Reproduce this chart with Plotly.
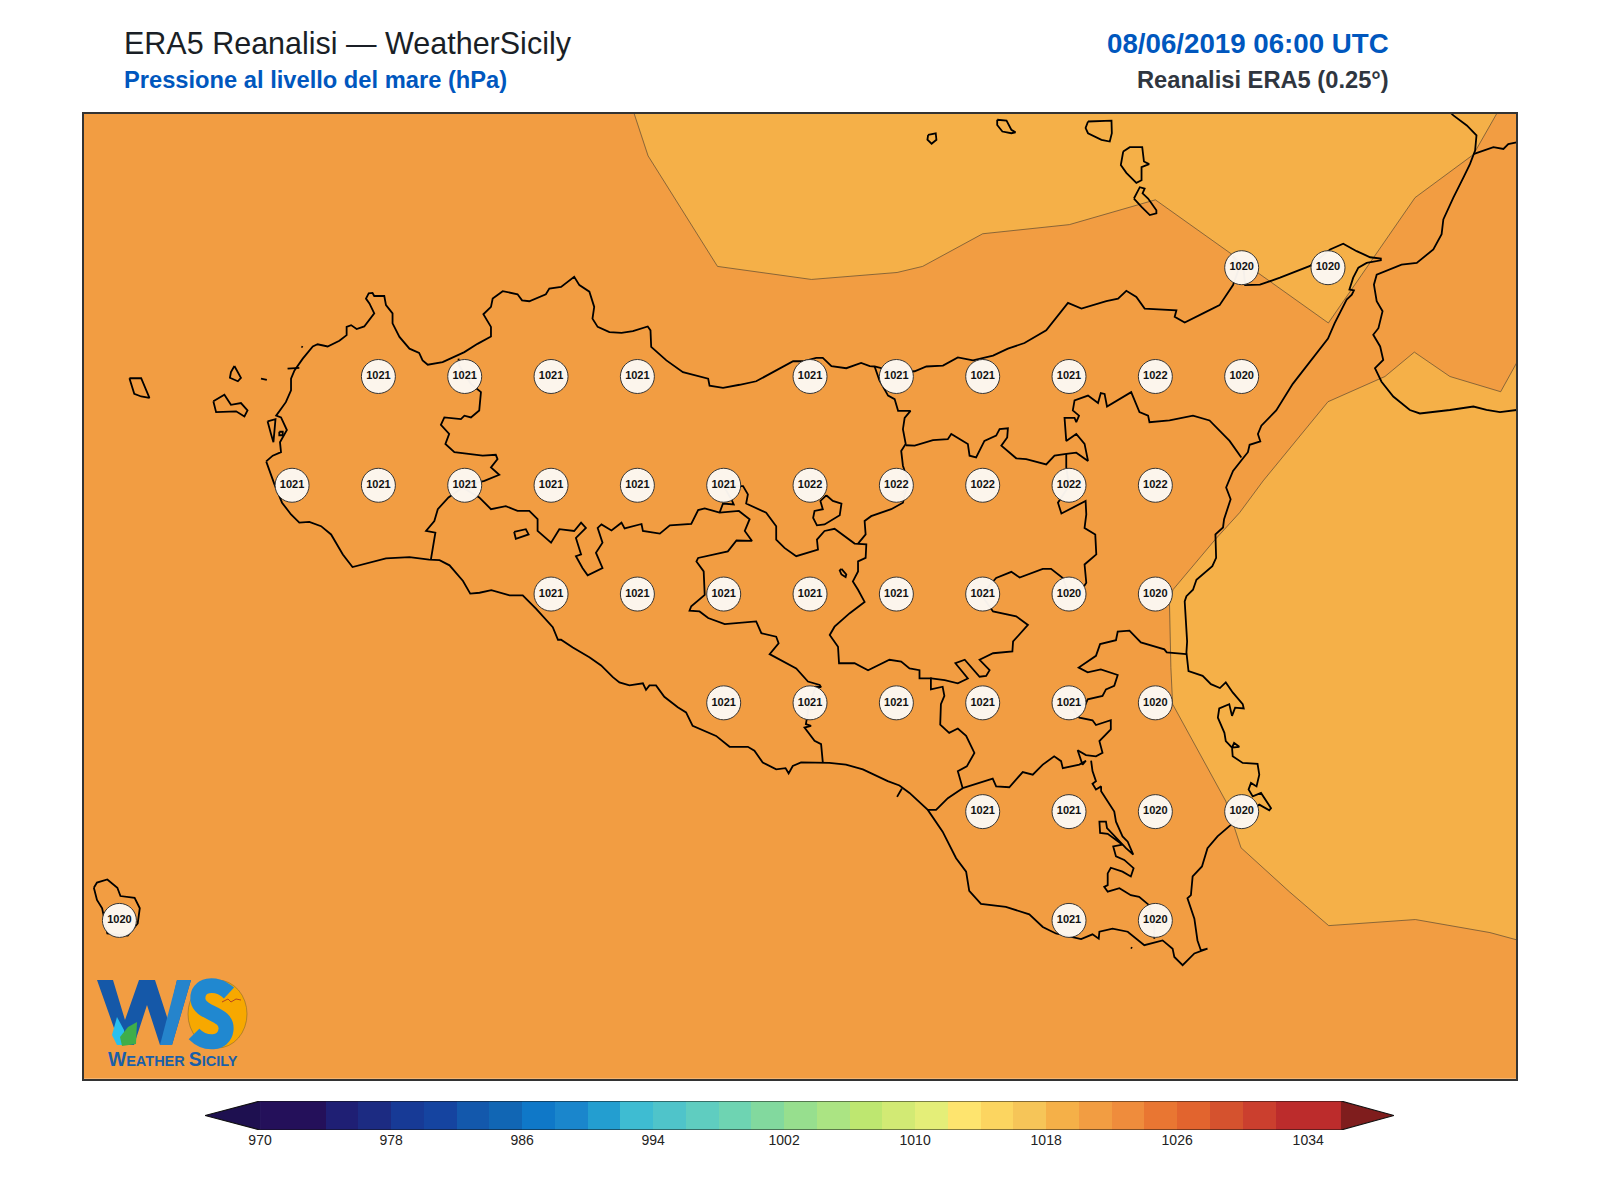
import plotly.graph_objects as go

# ---------- colour bands of the scale (hPa) ----------
LEVELS = list(range(970, 1036, 2))
BAND_COLORS = ["#24105A", "#24105A", "#1F1F74", "#1C2B82", "#173A96", "#1544A0", "#1358AC", "#1166B4",
               "#0F78C8", "#1A86CC", "#239ED0", "#3EBCD2", "#4FC4CA", "#5FCDC0", "#6ED4B2", "#82D99E",
               "#97DF8E", "#ABE483", "#BEE770", "#D2EA74", "#E4EE78", "#FEE46E", "#FCD560", "#F6C558",
               "#F5B048", "#F29D42", "#EF8C3C", "#E97632", "#E2642E", "#D5522E", "#CB3F2E", "#BC2C2C",
               "#BC2C2C"]
UNDER_COLOR = "#1E1050"
OVER_COLOR = "#7F1D1D"
CBAR_TICKS = [970, 978, 986, 994, 1002, 1010, 1018, 1026, 1034]

# ---------- grid labels ----------
GRID_LON = [15.25, 15.5,
            12.75, 13.0, 13.25, 13.5, 14.0, 14.25, 14.5, 14.75, 15.0, 15.25,
            12.5, 12.75, 13.0, 13.25, 13.5, 13.75, 14.0, 14.25, 14.5, 14.75, 15.0,
            13.25, 13.5, 13.75, 14.0, 14.25, 14.5, 14.75, 15.0,
            13.75, 14.0, 14.25, 14.5, 14.75, 15.0,
            14.5, 14.75, 15.0, 15.25,
            12.0, 14.75, 15.0]
GRID_LAT = [38.25] * 2 + [38.0] * 10 + [37.75] * 11 + [37.5] * 8 + [37.25] * 6 + [37.0] * 4 + [36.75] * 3
GRID_HPA = [1020, 1020,
            1021, 1021, 1021, 1021, 1021, 1021, 1021, 1021, 1022, 1020,
            1021, 1021, 1021, 1021, 1021, 1021, 1022, 1022, 1022, 1022, 1022,
            1021, 1021, 1021, 1021, 1021, 1021, 1020, 1020,
            1021, 1021, 1021, 1021, 1021, 1020,
            1021, 1021, 1020, 1020,
            1020, 1021, 1020]

# ---------- pressure band outlines (lon, lat) ----------
BAND_BASE = [(11.7, 36.2), (16.2, 36.2), (16.2, 38.8), (11.7, 38.8), (11.7, 36.2)]
BAND_NORTH = [(13.484, 38.62), (13.531, 38.507), (13.732, 38.253), (14.004, 38.223), (14.252, 38.239),
              (14.326, 38.253), (14.5, 38.328), (14.751, 38.349), (15.0, 38.406), (15.501, 38.123),
              (15.752, 38.411), (15.921, 38.510), (16.0, 38.62)]
BAND_EAST = [(16.06, 38.051), (16.046, 38.031), (16.0, 37.965), (15.853, 38.0), (15.75, 38.056), (15.665, 38.0),
             (15.5, 37.942), (15.312, 37.760), (15.244, 37.687), (15.174, 37.626), (15.051, 37.510),
             (15.041, 37.476), (15.043, 37.391), (15.045, 37.331), (15.05, 37.247), (15.204, 37.024),
             (15.248, 36.917), (15.388, 36.816), (15.502, 36.738), (15.753, 36.752), (15.969, 36.722),
             (16.048, 36.705), (16.06, 36.70)]

# ---------- coast of Sicily (lon, lat) ----------
COAST_SICILY = [
    (12.425, 37.805), (12.444, 37.818), (12.468, 37.826), (12.465, 37.849), (12.485, 37.877), (12.468, 37.906),
    (12.454, 37.910), (12.482, 37.941), (12.497, 37.968), (12.497, 37.995), (12.507, 38.014), (12.531, 38.041),
    (12.560, 38.069), (12.574, 38.074), (12.603, 38.069), (12.637, 38.082), (12.658, 38.095), (12.658, 38.114),
    (12.671, 38.118), (12.687, 38.109), (12.709, 38.115), (12.729, 38.137), (12.738, 38.145), (12.724, 38.168),
    (12.714, 38.179), (12.722, 38.191), (12.733, 38.192), (12.738, 38.185), (12.767, 38.185), (12.772, 38.164),
    (12.791, 38.145), (12.791, 38.122), (12.811, 38.091), (12.840, 38.064), (12.868, 38.054), (12.878, 38.037),
    (12.893, 38.027), (12.936, 38.033), (12.999, 38.056), (13.037, 38.075), (13.076, 38.092), (13.076, 38.114),
    (13.054, 38.143), (13.076, 38.160), (13.081, 38.179), (13.110, 38.196), (13.153, 38.189), (13.166, 38.175),
    (13.187, 38.173), (13.235, 38.189), (13.245, 38.202), (13.279, 38.206), (13.317, 38.229), (13.332, 38.210),
    (13.361, 38.195), (13.375, 38.160), (13.370, 38.133), (13.385, 38.114), (13.419, 38.102), (13.454, 38.100),
    (13.487, 38.104), (13.530, 38.115), (13.538, 38.106), (13.540, 38.068), (13.584, 38.037), (13.632, 38.010),
    (13.705, 37.995), (13.709, 37.979), (13.748, 37.974), (13.796, 37.981), (13.844, 37.989), (13.902, 38.014),
    (13.951, 38.035), (13.980, 38.035), (14.018, 38.043), (14.037, 38.043), (14.062, 38.024), (14.105, 38.019),
    (14.148, 38.031), (14.173, 38.024), (14.187, 38.023), (14.250, 38.010), (14.303, 38.012), (14.337, 38.023),
    (14.385, 38.025), (14.428, 38.044), (14.472, 38.037), (14.530, 38.048), (14.573, 38.064), (14.621, 38.077),
    (14.684, 38.106), (14.747, 38.169), (14.786, 38.156), (14.858, 38.173), (14.892, 38.179), (14.916, 38.197),
    (14.945, 38.183), (14.969, 38.156), (15.061, 38.152), (15.056, 38.137), (15.085, 38.124), (15.138, 38.145),
    (15.186, 38.164), (15.225, 38.210), (15.243, 38.250), (15.224, 38.277), (15.255, 38.250), (15.260, 38.210),
    (15.303, 38.211), (15.361, 38.227), (15.448, 38.254), (15.506, 38.292), (15.544, 38.305), (15.583, 38.288),
    (15.622, 38.274), (15.653, 38.271), (15.653, 38.267), (15.612, 38.261), (15.588, 38.250), (15.573, 38.227),
    (15.562, 38.200), (15.575, 38.198), (15.569, 38.188), (15.554, 38.177), (15.519, 38.122), (15.500, 38.087),
    (15.485, 38.072), (15.442, 38.029), (15.398, 37.983), (15.350, 37.922), (15.307, 37.887), (15.297, 37.868),
    (15.304, 37.851), (15.273, 37.843), (15.268, 37.826), (15.254, 37.812), (15.225, 37.783), (15.205, 37.745),
    (15.218, 37.718), (15.199, 37.672), (15.196, 37.653), (15.174, 37.637), (15.176, 37.583), (15.165, 37.564),
    (15.119, 37.533), (15.109, 37.510), (15.090, 37.495), (15.085, 37.483), (15.090, 37.429), (15.092, 37.391),
    (15.090, 37.366), (15.096, 37.323), (15.137, 37.312), (15.161, 37.293), (15.187, 37.284), (15.204, 37.297),
    (15.224, 37.274), (15.253, 37.247), (15.256, 37.237), (15.231, 37.239), (15.222, 37.220), (15.214, 37.247),
    (15.185, 37.237), (15.181, 37.216), (15.200, 37.181), (15.204, 37.162), (15.222, 37.147), (15.228, 37.158),
    (15.243, 37.149), (15.222, 37.147), (15.224, 37.127), (15.253, 37.112), (15.296, 37.110), (15.301, 37.085),
    (15.293, 37.058), (15.277, 37.066), (15.270, 37.051), (15.282, 37.035), (15.306, 37.043), (15.335, 37.008),
    (15.330, 37.003), (15.301, 37.016), (15.253, 36.993), (15.209, 36.962), (15.180, 36.943), (15.151, 36.916),
    (15.135, 36.874), (15.108, 36.851), (15.103, 36.808), (15.093, 36.801), (15.113, 36.754), (15.122, 36.704),
    (15.132, 36.681), (15.151, 36.685), (15.132, 36.679), (15.113, 36.674), (15.079, 36.647), (15.055, 36.666),
    (15.050, 36.685), (15.021, 36.704), (14.968, 36.693), (14.920, 36.724), (14.876, 36.731), (14.838, 36.724),
    (14.836, 36.708), (14.818, 36.718), (14.785, 36.707), (14.712, 36.720), (14.674, 36.735), (14.635, 36.764),
    (14.567, 36.781), (14.495, 36.788), (14.461, 36.818), (14.452, 36.862), (14.423, 36.893), (14.384, 36.954),
    (14.341, 37.004), (14.288, 37.043), (14.259, 37.060), (14.225, 37.070), (14.153, 37.097), (14.104, 37.108),
    (14.056, 37.112), (13.974, 37.113), (13.950, 37.105), (13.938, 37.088), (13.929, 37.100), (13.902, 37.097),
    (13.863, 37.113), (13.839, 37.140), (13.820, 37.149), (13.767, 37.149), (13.728, 37.174), (13.660, 37.197),
    (13.641, 37.228), (13.617, 37.240), (13.578, 37.264), (13.554, 37.290), (13.535, 37.290), (13.525, 37.280),
    (13.516, 37.295), (13.477, 37.290), (13.448, 37.297), (13.429, 37.309), (13.395, 37.336), (13.361, 37.355),
    (13.313, 37.377), (13.279, 37.395), (13.270, 37.395), (13.255, 37.424), (13.207, 37.466), (13.168, 37.497),
    (13.130, 37.497), (13.077, 37.509), (13.043, 37.503), (13.016, 37.501), (12.995, 37.530), (12.956, 37.566),
    (12.927, 37.578), (12.897, 37.579), (12.840, 37.585), (12.772, 37.582), (12.675, 37.562), (12.647, 37.591),
    (12.613, 37.637), (12.584, 37.656), (12.550, 37.666), (12.521, 37.664), (12.497, 37.683), (12.471, 37.710),
    (12.449, 37.752), (12.425, 37.805)]

COAST_CALABRIA = [
    (15.85, 38.61), (15.863, 38.600), (15.902, 38.577), (15.930, 38.554), (15.926, 38.519), (15.911, 38.488),
    (15.892, 38.457), (15.863, 38.411), (15.834, 38.361), (15.829, 38.327), (15.805, 38.292), (15.757, 38.261),
    (15.713, 38.257), (15.641, 38.234), (15.633, 38.211), (15.641, 38.173), (15.658, 38.150), (15.646, 38.111),
    (15.631, 38.096), (15.651, 38.069), (15.660, 38.038), (15.636, 38.019), (15.655, 37.988), (15.689, 37.954),
    (15.737, 37.923), (15.766, 37.915), (15.853, 37.923), (15.921, 37.931), (15.959, 37.923), (15.998, 37.918),
    (16.046, 37.923), (16.06, 37.923)]
BORDER_CALABRIA = [(15.921, 38.511), (15.950, 38.519), (15.979, 38.527), (16.008, 38.523), (16.022, 38.534),
                   (16.046, 38.538), (16.06, 38.54)]

# ---------- islands and small features (lon, lat) ----------
ISLANDS = [
    [(12.029, 37.996), (12.063, 37.996), (12.087, 37.951), (12.063, 37.954), (12.043, 37.960), (12.029, 37.996)],
    [(12.333, 38.024), (12.352, 37.997), (12.343, 37.989), (12.320, 37.997), (12.323, 38.010), (12.333, 38.024)],
    [(12.272, 37.943), (12.304, 37.958), (12.323, 37.935), (12.352, 37.939), (12.371, 37.922), (12.362, 37.908),
     (12.338, 37.920), (12.299, 37.918), (12.280, 37.918), (12.272, 37.943)],
    [(12.410, 37.995), (12.427, 37.992)],
    [(12.527, 38.069), (12.531, 38.067)],
    [(12.429, 37.897), (12.452, 37.902), (12.449, 37.875), (12.446, 37.849), (12.439, 37.868), (12.429, 37.897)],
    [(12.463, 37.873), (12.473, 37.873), (12.473, 37.865), (12.463, 37.865), (12.463, 37.873)],
    [(12.487, 38.018), (12.521, 38.020)],
    [(14.342, 38.555), (14.364, 38.559), (14.366, 38.544), (14.352, 38.535), (14.340, 38.544), (14.342, 38.555)],
    [(14.542, 38.590), (14.569, 38.588), (14.583, 38.567), (14.595, 38.561), (14.583, 38.559), (14.557, 38.563),
     (14.542, 38.578), (14.542, 38.590)],
    [(14.805, 38.586), (14.873, 38.588), (14.874, 38.559), (14.868, 38.540), (14.844, 38.544), (14.805, 38.559),
     (14.798, 38.571), (14.805, 38.586)],
    [(14.907, 38.517), (14.926, 38.527), (14.962, 38.527), (14.967, 38.494), (14.982, 38.488), (14.960, 38.481),
     (14.960, 38.451), (14.945, 38.445), (14.916, 38.468), (14.900, 38.486), (14.907, 38.517)],
    [(14.938, 38.409), (14.950, 38.425), (14.955, 38.435), (14.969, 38.432), (14.963, 38.421), (14.979, 38.409),
     (15.003, 38.382), (15.003, 38.375), (14.984, 38.371), (14.960, 38.390), (14.938, 38.409)],
    [(11.926, 36.825), (11.935, 36.837), (11.965, 36.844), (11.994, 36.825), (12.003, 36.806), (12.044, 36.802),
     (12.059, 36.778), (12.053, 36.743), (12.024, 36.715), (11.965, 36.72), (11.95, 36.778), (11.935, 36.797),
     (11.926, 36.825)],
    [(14.266, 37.053), (14.252, 37.034)],
    [(14.929, 36.688), (14.933, 36.686)],
]

# ---------- province borders (lon, lat) ----------
BORDERS = [
    [(12.982, 38.041), (12.984, 38.025), (13.018, 37.983), (13.047, 37.964), (13.042, 37.922), (13.018, 37.906),
     (12.999, 37.910), (12.989, 37.902), (12.941, 37.906), (12.931, 37.889), (12.955, 37.868), (12.944, 37.845),
     (12.970, 37.826), (13.052, 37.818), (13.090, 37.820), (13.095, 37.810), (13.076, 37.791), (13.100, 37.774),
     (13.057, 37.760), (13.018, 37.752), (12.994, 37.745), (12.953, 37.722), (12.922, 37.695), (12.912, 37.668),
     (12.888, 37.645), (12.915, 37.641), (12.902, 37.579)],
    [(12.994, 37.745), (13.042, 37.722), (13.076, 37.695), (13.119, 37.702), (13.153, 37.691), (13.187, 37.691),
     (13.211, 37.672), (13.211, 37.645), (13.250, 37.618), (13.274, 37.649), (13.317, 37.645), (13.337, 37.664),
     (13.351, 37.652), (13.322, 37.629), (13.337, 37.591), (13.322, 37.587), (13.341, 37.560), (13.356, 37.543),
     (13.399, 37.560), (13.380, 37.595), (13.399, 37.618), (13.385, 37.652), (13.396, 37.660), (13.425, 37.646),
     (13.454, 37.664), (13.463, 37.651), (13.512, 37.661), (13.516, 37.645), (13.565, 37.639), (13.594, 37.658),
     (13.656, 37.661), (13.676, 37.693), (13.695, 37.697), (13.738, 37.687), (13.794, 37.691), (13.825, 37.672),
     (13.811, 37.645), (13.832, 37.622), (13.787, 37.623), (13.762, 37.598), (13.676, 37.583), (13.671, 37.575),
     (13.692, 37.552), (13.695, 37.498), (13.656, 37.472), (13.651, 37.462), (13.680, 37.460), (13.705, 37.445),
     (13.753, 37.431), (13.844, 37.437), (13.859, 37.410), (13.902, 37.402), (13.909, 37.387), (13.883, 37.362),
     (13.960, 37.329), (13.994, 37.299), (14.028, 37.291), (14.032, 37.286), (14.017, 37.287), (13.998, 37.247),
     (13.988, 37.201), (14.003, 37.197), (13.984, 37.193), (14.013, 37.163), (14.032, 37.155), (14.037, 37.113)],
    [(13.738, 37.687), (13.748, 37.708), (13.779, 37.706), (13.772, 37.718), (13.750, 37.748), (13.806, 37.748),
     (13.820, 37.729), (13.815, 37.708), (13.873, 37.687), (13.902, 37.656), (13.902, 37.625), (13.926, 37.606),
     (13.960, 37.587), (14.023, 37.602), (14.020, 37.625), (14.042, 37.645), (14.071, 37.650), (14.105, 37.629),
     (14.129, 37.616), (14.163, 37.614), (14.161, 37.583), (14.139, 37.575), (14.139, 37.552), (14.124, 37.529),
     (14.139, 37.510), (14.158, 37.482), (14.115, 37.456), (14.071, 37.425), (14.057, 37.406), (14.081, 37.379),
     (14.084, 37.341), (14.129, 37.341), (14.168, 37.325), (14.230, 37.349), (14.264, 37.345), (14.288, 37.329),
     (14.317, 37.325), (14.317, 37.306), (14.351, 37.306), (14.390, 37.302), (14.428, 37.295), (14.457, 37.306),
     (14.421, 37.341), (14.448, 37.349), (14.491, 37.310), (14.510, 37.312), (14.520, 37.325), (14.491, 37.349),
     (14.530, 37.364), (14.586, 37.368), (14.588, 37.391), (14.631, 37.429), (14.597, 37.449), (14.530, 37.460),
     (14.496, 37.498), (14.539, 37.537), (14.583, 37.551), (14.607, 37.538), (14.674, 37.558), (14.698, 37.558),
     (14.732, 37.537), (14.750, 37.499), (14.790, 37.514), (14.800, 37.526), (14.795, 37.568), (14.829, 37.591),
     (14.826, 37.637), (14.795, 37.652), (14.800, 37.683), (14.798, 37.714), (14.752, 37.695), (14.728, 37.685),
     (14.718, 37.710), (14.750, 37.749), (14.742, 37.791), (14.742, 37.822)],
    [(14.187, 38.023), (14.201, 37.991), (14.226, 37.956), (14.245, 37.948), (14.255, 37.921), (14.291, 37.921),
     (14.274, 37.905), (14.269, 37.879), (14.277, 37.845), (14.264, 37.829), (14.269, 37.795), (14.284, 37.760),
     (14.269, 37.710), (14.235, 37.695), (14.177, 37.679), (14.158, 37.668), (14.161, 37.637), (14.139, 37.616)],
    [(14.277, 37.842), (14.303, 37.841), (14.356, 37.854), (14.399, 37.856), (14.409, 37.868), (14.457, 37.845),
     (14.462, 37.818), (14.481, 37.814), (14.505, 37.852), (14.539, 37.864), (14.549, 37.879), (14.573, 37.881),
     (14.571, 37.860), (14.554, 37.841), (14.597, 37.812), (14.626, 37.810), (14.684, 37.798), (14.708, 37.818),
     (14.742, 37.822), (14.771, 37.825), (14.805, 37.806), (14.795, 37.845), (14.771, 37.868), (14.742, 37.852),
     (14.737, 37.905), (14.766, 37.905), (14.771, 37.895), (14.779, 37.910), (14.761, 37.922), (14.766, 37.945),
     (14.805, 37.956), (14.834, 37.939), (14.842, 37.962), (14.853, 37.960), (14.860, 37.931), (14.897, 37.949),
     (14.930, 37.964), (14.954, 37.918), (14.979, 37.910), (14.983, 37.895), (15.041, 37.899), (15.109, 37.910),
     (15.157, 37.899), (15.215, 37.852), (15.249, 37.814)],
    [(14.749, 37.250), (14.798, 37.247), (14.804, 37.258), (14.847, 37.266), (14.857, 37.281),
     (14.881, 37.289), (14.891, 37.314), (14.842, 37.327), (14.804, 37.320), (14.778, 37.331), (14.828, 37.358),
     (14.840, 37.385), (14.886, 37.394), (14.891, 37.414), (14.925, 37.416), (14.958, 37.389), (15.026, 37.373),
     (15.033, 37.366), (15.090, 37.362)],
    [(14.749, 37.250), (14.780, 37.216), (14.818, 37.210), (14.828, 37.199), (14.871, 37.210), (14.871, 37.189),
     (14.838, 37.162), (14.847, 37.135), (14.828, 37.127), (14.799, 37.130), (14.775, 37.141), (14.789, 37.108),
     (14.799, 37.117), (14.780, 37.108), (14.732, 37.100), (14.727, 37.116), (14.707, 37.127), (14.674, 37.108),
     (14.645, 37.085), (14.616, 37.091), (14.577, 37.056), (14.539, 37.058), (14.529, 37.076), (14.442, 37.054),
     (14.428, 37.093), (14.454, 37.104), (14.476, 37.135), (14.452, 37.174), (14.428, 37.191), (14.403, 37.181),
     (14.377, 37.200), (14.379, 37.247), (14.389, 37.266), (14.384, 37.287), (14.350, 37.281), (14.350, 37.308)],
    [(14.442, 37.054), (14.399, 37.031), (14.365, 37.004), (14.341, 37.004)],
    [(14.814, 37.117), (14.818, 37.093), (14.828, 37.070), (14.818, 37.064), (14.828, 37.051), (14.843, 37.058),
     (14.843, 37.047), (14.881, 37.000), (14.886, 36.977), (14.905, 36.943), (14.920, 36.931), (14.936, 36.901),
     (14.915, 36.916), (14.881, 36.943), (14.860, 36.962), (14.857, 36.977), (14.838, 36.977), (14.840, 36.951),
     (14.862, 36.949), (14.905, 36.924), (14.878, 36.920), (14.886, 36.897), (14.910, 36.889), (14.937, 36.870),
     (14.929, 36.851), (14.905, 36.862), (14.871, 36.871), (14.862, 36.858), (14.862, 36.831), (14.852, 36.827),
     (14.862, 36.816), (14.896, 36.824), (14.929, 36.808), (14.953, 36.804), (14.982, 36.785), (14.997, 36.747),
     (14.997, 36.708)],
    [(13.143, 37.643), (13.177, 37.649), (13.185, 37.637), (13.148, 37.627), (13.143, 37.643)],
    [(14.091, 37.558), (14.105, 37.545), (14.103, 37.539), (14.091, 37.545), (14.086, 37.554), (14.091, 37.558)],
    [(14.047, 37.727), (14.066, 37.714), (14.091, 37.708), (14.086, 37.681), (14.042, 37.660), (14.020, 37.658),
     (14.009, 37.675), (14.013, 37.691), (14.037, 37.695), (14.030, 37.714), (14.047, 37.727)],
]

TITLE_MAIN = "ERA5 Reanalisi — WeatherSicily"
TITLE_SUB = "Pressione al livello del mare (hPa)"
TITLE_DATE = "08/06/2019 06:00 UTC"
TITLE_SRC = "Reanalisi ERA5 (0.25°)"
LOGO_TEXT = "W<span style='font-size:14.5px'>EATHER </span>S<span style='font-size:14.5px'>ICILY</span>"
FONT = "Liberation Sans"
PAGE_MARGIN = 8
W, H = 1600 - 2 * PAGE_MARGIN, 1200 - 2 * PAGE_MARGIN


def px(x):
    return (x - PAGE_MARGIN) / W


def py(y):
    return 1 - (y - PAGE_MARGIN) / H


def join(paths):
    xs, ys = [], []
    for p in paths:
        xs += [a for a, _ in p] + [None]
        ys += [b for _, b in p] + [None]
    return xs, ys


def band(path, color, line_w):
    return go.Scatter(x=[a for a, _ in path], y=[b for _, b in path], mode="lines", fill="toself",
                      fillcolor=color, line=dict(color="#5C4A32", width=line_w), hoverinfo="skip")


fig = go.Figure()

# pressure bands
fig.add_trace(band(BAND_BASE, BAND_COLORS[25], 0))
fig.add_trace(band(BAND_NORTH, BAND_COLORS[24], 0.7))
fig.add_trace(band(BAND_EAST, BAND_COLORS[24], 0.7))

# coast and borders
xs, ys = join(BORDERS + [COAST_SICILY, COAST_CALABRIA, BORDER_CALABRIA] + ISLANDS)
fig.add_trace(go.Scatter(x=xs, y=ys, mode="lines", line=dict(color="#000000", width=1.8), hoverinfo="skip"))

# grid value labels
fig.add_trace(go.Scatter(x=GRID_LON, y=GRID_LAT, mode="markers+text", text=[str(v) for v in GRID_HPA],
                         textposition="middle center",
                         textfont=dict(family=FONT, size=11, color="#111111", weight="bold"),
                         marker=dict(size=34, color="#FDF8F2", opacity=0.97, line=dict(color="#333333", width=1)),
                         hoverinfo="skip"))

# colour bar
edges = LEVELS + [1036]
mids = [v + 1 for v in LEVELS]
n = len(BAND_COLORS)
scale = []
for i, c in enumerate(BAND_COLORS):
    scale += [[i / n, c], [(i + 1) / n, c]]
fig.add_trace(go.Heatmap(x=edges, y=[0, 1], z=[mids], colorscale=scale, zmin=970, zmax=1036, showscale=False,
                         xaxis="x2", yaxis="y2", hoverinfo="skip"))
fig.add_trace(go.Scatter(x=[970, 966.64, 970, 970], y=[1, 0.5, 0, 1], mode="lines", fill="toself", fillcolor=UNDER_COLOR,
                         line=dict(width=0), xaxis="x2", yaxis="y2", hoverinfo="skip"))
fig.add_trace(go.Scatter(x=[1036, 1039.24, 1036, 1036], y=[1, 0.5, 0, 1], mode="lines", fill="toself", fillcolor=OVER_COLOR,
                         line=dict(width=0), xaxis="x2", yaxis="y2", hoverinfo="skip"))
fig.add_trace(go.Scatter(x=[970, 1036, 1039.24, 1036, 970, 966.64, 970], y=[1, 1, 0.5, 0, 0, 0.5, 1], mode="lines",
                         line=dict(color="#111111", width=1.2), xaxis="x2", yaxis="y2", hoverinfo="skip"))


def note(x, y, text, size, color, anchor="left", bold=False):
    return dict(x=px(x), y=py(y), xref="paper", yref="paper", text=text, showarrow=False, xanchor=anchor,
                yanchor="middle", font=dict(family=FONT, size=size, color=color, weight="bold" if bold else "normal"))


notes = [
    note(122, 44, TITLE_MAIN, 30.5, "#1A1F26"),
    note(122, 80, TITLE_SUB, 23.7, "#0057BE", bold=True),
    note(1391, 44, TITLE_DATE, 27.7, "#0057BE", "right", True),
    note(1391, 80, TITLE_SRC, 23.7, "#2F3640", "right", True),
    note(106, 1059, LOGO_TEXT, 19.3, "#1A5FA8", bold=True),
]


def logo_poly(points, fill):
    d = "M " + " L ".join(f"{px(a):.5f},{py(b):.5f}" for a, b in points) + " Z"
    return dict(type="path", xref="paper", yref="paper", path=d, fillcolor=fill, line=dict(width=0), layer="above")


def logo_curve(cmds, color, width):
    parts = []
    for c, pts in cmds:
        parts.append(c + " " + " ".join(f"{px(a):.5f},{py(b):.5f}" for a, b in pts))
    return dict(type="path", xref="paper", yref="paper", path=" ".join(parts), line=dict(color=color, width=width),
                layer="above")


shapes = [
    dict(type="circle", xref="paper", yref="paper", x0=px(188), x1=px(247), y0=py(1048), y1=py(980),
         fillcolor="#F7A800", line=dict(color="#8A6A2A", width=0.6), layer="above"),
    logo_poly([(97, 980), (113, 980), (125, 1020), (139, 980), (155, 980), (168, 1020), (177, 980), (191, 980),
               (172, 1045), (160, 1045), (147, 1005), (134, 1045), (120, 1045)], "#1558A8"),
    logo_poly([(172, 1045), (160, 1045), (177, 980), (191, 980)], "#2584CC"),
    logo_poly([(117, 1017), (124, 1030), (125, 1045), (117, 1045), (112, 1035)], "#28C0EE"),
    logo_poly([(120, 1037), (128, 1027), (137, 1022), (136, 1044), (122, 1046)], "#3FAE49"),
    logo_curve([("M", [(229, 993)]), ("C", [(216, 981), (196, 984), (198, 1000)]),
                ("C", [(200, 1015), (228, 1012), (226, 1030)]), ("C", [(224, 1045), (205, 1045), (194, 1034)])],
               "#2088D0", 15),
    logo_curve([("M", [(222, 1002)]), ("L", [(228, 999)]), ("L", [(231, 1002)]), ("L", [(236, 999)]), ("L", [(241, 1000)])],
               "#B5461E", 1),
]

fig.update_layout(
    width=W, height=H, margin=dict(l=0, r=0, t=0, b=0), paper_bgcolor="#FFFFFF", plot_bgcolor="#FFFFFF",
    showlegend=False, annotations=notes, shapes=shapes,
    xaxis=dict(domain=[px(83.5), px(1516.2)], range=[11.896, 16.045], showgrid=False, zeroline=False, showticklabels=False,
               ticks="", showline=True, mirror=True, linecolor="#333333", linewidth=1.6),
    yaxis=dict(domain=[py(1078.8), py(114.1)], range=[36.386, 38.603], showgrid=False, zeroline=False, showticklabels=False,
               ticks="", showline=True, mirror=True, linecolor="#333333", linewidth=1.6),
    xaxis2=dict(domain=[px(205), px(1394)], range=[966.64, 1039.24], anchor="y2", showgrid=False, zeroline=False,
                tickmode="array", tickvals=CBAR_TICKS, ticks="", tickfont=dict(family=FONT, size=14, color="#222222")),
    yaxis2=dict(domain=[py(1130), py(1101)], range=[0, 1], anchor="x2", showgrid=False, zeroline=False,
                showticklabels=False, ticks=""),
)
fig.write_html("out.html")
